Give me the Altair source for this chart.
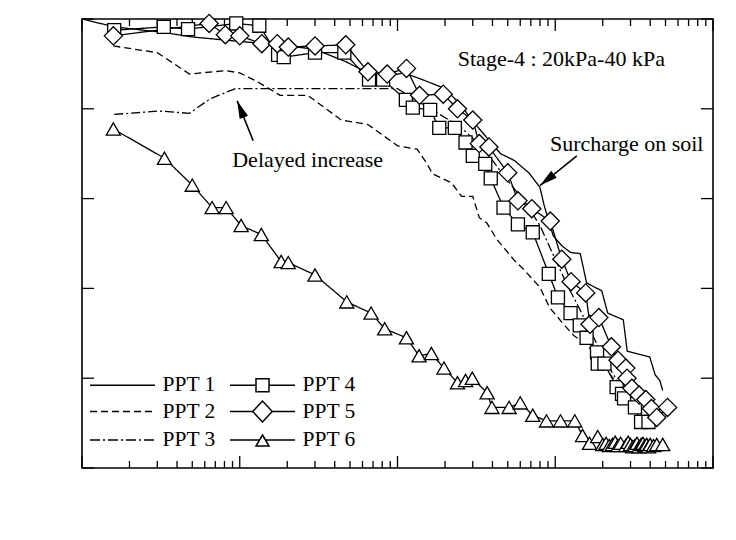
import math
import altair as alt
import pandas as pd

# ---------------- data ----------------
series_names = ["PPT 1", "PPT 2", "PPT 3", "PPT 4", "PPT 5", "PPT 6"]

t1 = [0.01, 0.016, 0.033, 0.05, 0.1, 0.18, 0.3, 0.47, 0.65, 0.85, 1.1, 1.5, 2.0, 2.5, 3.0, 3.5, 4.5, 5.5, 6.8, 8.0,
      8.5, 9.7, 11.0, 12.5, 14.4, 15.8, 17.8, 19.7, 21.5, 27, 28.6, 39.7, 43, 46, 48]
v1 = [20.0, 19.65, 19.4, 19.2, 19.0, 18.85, 18.65, 18.1, 17.6, 17.45, 17.6, 17.25, 16.9, 16.2, 15.45, 14.9, 14.0, 13.7,
      13.15, 12.5, 11.7, 10.35, 9.9, 9.6, 9.55, 8.25, 8.05, 7.9, 6.9, 6.6, 5.2, 4.95, 4.15, 3.9, 3.45]

t2 = [0.0158, 0.030, 0.048, 0.081, 0.10, 0.13, 0.18, 0.27, 0.44, 0.65, 1.0, 1.33, 1.54, 1.67, 2.2, 2.55, 3.0, 3.3,
      3.7, 4.25, 5.5, 6.2, 8.0, 9.2, 11, 13.1, 15.8, 20, 25, 30, 35, 40]
v2 = [18.8, 18.5, 17.55, 17.7, 17.6, 17.2, 16.6, 16.6, 15.5, 15.3, 14.35, 14.2, 13.55, 13.1, 12.7, 12.1, 12.1, 11.15,
      10.9, 10.2, 9.25, 8.9, 8.05, 7.15, 6.5, 5.9, 5.5, 4.6, 3.7, 3.0, 2.5, 2.2]

t3 = [0.016, 0.031, 0.048, 0.065, 0.094, 0.3, 0.67, 1.0, 1.3, 1.8, 2.5, 3.2, 4.0, 5.0, 6.5, 8.0, 10, 12, 14, 17,
      20, 25, 30, 35, 40]
v3 = [15.75, 15.9, 15.8, 16.45, 16.9, 16.9, 16.9, 16.9, 16.4, 15.8, 15.2, 14.5, 13.7, 12.8, 11.8, 10.8, 9.3, 8.1,
      7.2, 6.0, 5.0, 3.8, 3.0, 2.4, 2.1]

t4 = [0.016, 0.033, 0.047, 0.095, 0.133, 0.175, 0.19, 0.30, 0.46, 0.66, 0.81, 1.13, 1.25, 1.61, 1.84, 2.31, 2.7,
      3.0, 3.6, 3.9, 4.7, 5.8, 7.2, 9.1, 10.4, 12.5, 14.3, 15.8, 18.4, 18.6, 20.5, 24.5, 26.5, 27.3, 32, 35, 39]
v4 = [19.5, 19.65, 19.55, 19.8, 19.7, 18.4, 18.3, 18.5, 18.5, 17.3, 17.3, 16.4, 16.05, 15.95, 15.15, 15.15, 14.5,
      13.9, 13.55, 12.9, 11.6, 10.85, 10.5, 8.65, 7.6, 6.9, 6.35, 5.8, 5.15, 4.65, 4.65, 3.6, 3.3, 3.1, 2.7, 2.05, 2.05]

t5 = [0.0158, 0.064, 0.081, 0.10, 0.138, 0.173, 0.203, 0.30, 0.47, 0.65, 0.86, 1.14, 1.38, 1.95, 2.40, 3.0, 3.3,
      3.8, 5.0, 5.8, 7.1, 9.3, 11.0, 12.6, 15.6, 16.6, 18.9, 22.7, 25, 28, 28.5, 30.6, 34, 37.5, 40.7, 44, 51.5]
v5 = [19.25, 19.8, 19.3, 19.25, 18.9, 18.9, 18.75, 18.8, 18.85, 17.65, 17.55, 17.8, 16.6, 16.65, 16.0, 15.5, 14.45,
      14.3, 13.15, 11.9, 11.55, 11.0, 9.3, 8.3, 7.8, 6.4, 6.7, 5.4, 4.8, 4.45, 4.0, 3.55, 3.25, 3.05, 2.65, 2.25, 2.7]

t6 = [0.0158, 0.0333, 0.050, 0.0668, 0.082, 0.102, 0.137, 0.183, 0.203, 0.30, 0.477, 0.68, 0.83, 1.14, 1.37, 1.64,
      1.97, 2.40, 2.7, 2.98, 3.7, 3.97, 5.1, 6.0, 7.2, 8.8, 10.8, 13.3, 14.9, 16.5, 18.6, 20, 21, 22, 23, 24, 25, 26,
      28, 29, 30, 31, 32, 33, 34, 35, 36, 37, 38, 39, 40, 42, 44, 48]
v6 = [15.1, 13.8, 12.6, 11.6, 11.6, 10.8, 10.4, 9.2, 9.15, 8.6, 7.4, 6.9, 6.2, 5.8, 5.0, 5.1, 4.45, 3.8, 3.9, 4.0,
      3.35, 2.7, 2.7, 2.9, 2.35, 2.1, 2.1, 2.1, 1.45, 1.1, 1.4, 1.05, 1.1, 1.0, 1.05, 1.15, 1.0, 1.1, 1.0, 1.15,
      1.05, 0.95, 1.0, 1.1, 0.95, 1.05, 1.1, 1.0, 1.05, 0.95, 1.05, 1.0, 1.05, 1.05]

x_major = [0.01, 0.1, 1, 10, 100]
x_minor = [m * d for d in [0.01, 0.1, 1, 10] for m in range(2, 10)]
y_ticks = [0, 4, 8, 12, 16, 20]

annot_text = ["Stage-4 : 20kPa-40 kPa", "Delayed increase", "Surcharge on soil"]
annot_t = [2.41, 0.0896, 9.25]
annot_v = [18.2, 13.7, 14.44]

arrow_tail_t = [0.1216, 13.7]
arrow_tail_v = [14.58, 13.9]
arrow_tip_t = [0.0963, 8.0]
arrow_tip_v = [16.36, 12.58]

# ---------------- layout / style ----------------
W, H = 631, 449
FONT = "Liberation Serif"
MAJOR, MINOR = 12, 7

series_t = [t1, t2, t3, t4, t5, t6]
series_v = [v1, v2, v3, v4, v5, v6]
dash_of = {"PPT 1": [1, 0], "PPT 2": [7, 4], "PPT 3": [9, 3, 2, 3],
           "PPT 4": [1, 0], "PPT 5": [1, 0], "PPT 6": [1, 0]}
marker_of = {"PPT 4": ("square", 170), "PPT 5": ("diamond", 330), "PPT 6": ("triangle-up", 200)}

xs = alt.Scale(type="log", domain=[0.01, 100], nice=False)
ys = alt.Scale(domain=[0, 20], nice=False)


def series_df(name):
    i = series_names.index(name)
    return pd.DataFrame({"t": series_t[i], "v": series_v[i]})


line_layers = [
    alt.Chart(series_df(n)).mark_line(color="black", strokeWidth=1.3, strokeDash=dash_of[n]).encode(
        x=alt.X("t:Q", scale=xs, axis=None), y=alt.Y("v:Q", scale=ys, axis=None))
    for n in series_names
]

marker_layers = [
    alt.Chart(series_df(n)).mark_point(shape=marker_of[n][0], size=marker_of[n][1], filled=True,
                                       fill="white", stroke="black", strokeWidth=1.3, opacity=1).encode(
        x=alt.X("t:Q", scale=xs, axis=None), y=alt.Y("v:Q", scale=ys, axis=None))
    for n in ["PPT 6", "PPT 4", "PPT 5"]
]

# inward tick marks: positions come from the tick arrays through the scales
xmaj_df = pd.DataFrame({"t": x_major})
xmin_df = pd.DataFrame({"t": x_minor})
ytick_df = pd.DataFrame({"v": y_ticks})


def xticks(df, y0, y1):
    return alt.Chart(df).mark_rule(color="black", strokeWidth=1.3).encode(
        x=alt.X("t:Q", scale=xs, axis=None), y=alt.value(y0), y2=alt.value(y1))


def yticks(x0, x1):
    return alt.Chart(ytick_df).mark_rule(color="black", strokeWidth=1.3).encode(
        y=alt.Y("v:Q", scale=ys, axis=None), x=alt.value(x0), x2=alt.value(x1))


tick_layers = [
    xticks(xmaj_df, H, H - MAJOR), xticks(xmaj_df, 0, MAJOR),
    xticks(xmin_df, H, H - MINOR), xticks(xmin_df, 0, MINOR),
    yticks(0, MAJOR), yticks(W, W - MAJOR),
]

# legend symbol paths (unit = 12 px, symbol 65 px wide)
U = 12.0
HALF = 32.5 / U


def seg(a, b):
    return f"M{a:.3f},0L{b:.3f},0"


def dashed(pattern):
    p = ""
    x = -HALF
    idx = 0
    while x < HALF:
        L = pattern[idx % len(pattern)] / U
        if idx % 2 == 0:
            p += seg(x, min(x + L, HALF))
        x += L
        idx += 1
    return p


sq = 6.5 / U
dxd, dyd = 9.75 / U, 10.5 / U
tw, ta, tb = 6.5 / U, 5.0 / U, 6.0 / U
tcut = tw * ta / (ta + tb)
legend_paths = [
    seg(-HALF, HALF),
    dashed([7, 4]),
    dashed([10, 3, 2, 3]),
    seg(-HALF, -sq) + seg(sq, HALF) + f"M{-sq:.3f},{-sq:.3f}L{sq:.3f},{-sq:.3f}L{sq:.3f},{sq:.3f}L{-sq:.3f},{sq:.3f}Z",
    seg(-HALF, -dxd) + seg(dxd, HALF) + f"M{-dxd:.3f},0L0,{-dyd:.3f}L{dxd:.3f},0L0,{dyd:.3f}Z",
    seg(-HALF, -tcut) + seg(tcut, HALF) + f"M0,{-ta:.3f}L{tw:.3f},{tb:.3f}L{-tw:.3f},{tb:.3f}Z",
]

# legend carrier points lie beyond the x domain (off the page)
legend_df = pd.DataFrame({"series": series_names, "t": [1000.0] * 6, "v": [10.0] * 6})
legend_layer = alt.Chart(legend_df).mark_point(filled=True, fill="white", stroke="black", strokeWidth=1.3,
                                               size=576, opacity=1).encode(
    x=alt.X("t:Q", scale=xs, axis=None),
    y=alt.Y("v:Q", scale=ys, axis=None),
    shape=alt.Shape("series:N", scale=alt.Scale(domain=series_names, range=legend_paths),
                    legend=alt.Legend(orient="none", legendX=7, legendY=353, columns=2, columnPadding=11,
                                      rowPadding=1.5, symbolSize=576, symbolOffset=20.5, labelOffset=27,
                                      labelFont=FONT, labelFontSize=21.5, labelColor="black",
                                      title=None, padding=0)),
)

annot_df = pd.DataFrame({"label": annot_text, "t": annot_t, "v": annot_v})
texts = alt.Chart(annot_df).mark_text(align="left", baseline="middle", font=FONT, fontSize=22,
                                      color="black").encode(
    x=alt.X("t:Q", scale=xs, axis=None),
    y=alt.Y("v:Q", scale=ys, axis=None),
    text="label:N",
)

arrow_df = pd.DataFrame({"t": arrow_tail_t, "v": arrow_tail_v, "t2": arrow_tip_t, "v2": arrow_tip_v})
arrows = alt.Chart(arrow_df).mark_rule(color="black", strokeWidth=1.6).encode(
    x=alt.X("t:Q", scale=xs, axis=None),
    y=alt.Y("v:Q", scale=ys, axis=None),
    x2="t2:Q",
    y2="v2:Q",
)


def angle_of(tt, vt, tp, vp):
    dx = (math.log10(tp) - math.log10(tt)) * W / 4.0
    dy = -(vp - vt) * H / 20.0
    return (math.degrees(math.atan2(dx, -dy)) + 360.0) % 360.0


head_layers = []
for a, b, c, d in zip(arrow_tail_t, arrow_tail_v, arrow_tip_t, arrow_tip_v):
    head_layers.append(
        alt.Chart(pd.DataFrame({"t": [c], "v": [d]})).mark_point(
            shape="M0,0L0.5,2L-0.5,2Z", size=324, filled=True, color="black", opacity=1,
            angle=angle_of(a, b, c, d)).encode(
            x=alt.X("t:Q", scale=xs, axis=None), y=alt.Y("v:Q", scale=ys, axis=None)))

frame_df = pd.DataFrame({"t": [0.01, 100.0], "v": [0.0, 20.0]})
label_frame = alt.Chart(frame_df).mark_point(opacity=0).encode(
    x=alt.X("t:Q", scale=xs, axis=alt.Axis(
        orient="bottom", values=x_major, format="~g", ticks=False, domain=False, grid=False,
        labelPadding=15, labelFontSize=23, labelFont=FONT, labelColor="black",
        labelFlush=False, labelOverlap=False,
        title="Time (Hour)", titleFontSize=25, titleFont=FONT, titleColor="black",
        titleFontWeight="normal", titlePadding=4)),
    y=alt.Y("v:Q", scale=ys, axis=alt.Axis(
        orient="left", values=y_ticks, ticks=False, domain=False, grid=False, labelPadding=13,
        labelFontSize=23, labelFont=FONT, labelColor="black", labelOverlap=False,
        title="Execss Pore Water Pressure (kPa)", titleFontSize=28, titleFont=FONT,
        titleColor="black", titleFontWeight="normal", titlePadding=7)),
)

chart = alt.layer(
    label_frame, *tick_layers, *line_layers, *marker_layers, legend_layer, texts, arrows, *head_layers
).properties(
    width=W, height=H,
    padding={"left": 82, "top": 19, "right": 23, "bottom": 72},
    autosize=alt.AutoSizeParams(type="none"),
).configure_view(stroke="black", strokeWidth=1.6)

chart.save("out.html", embed_options={"renderer": "svg", "actions": False})
